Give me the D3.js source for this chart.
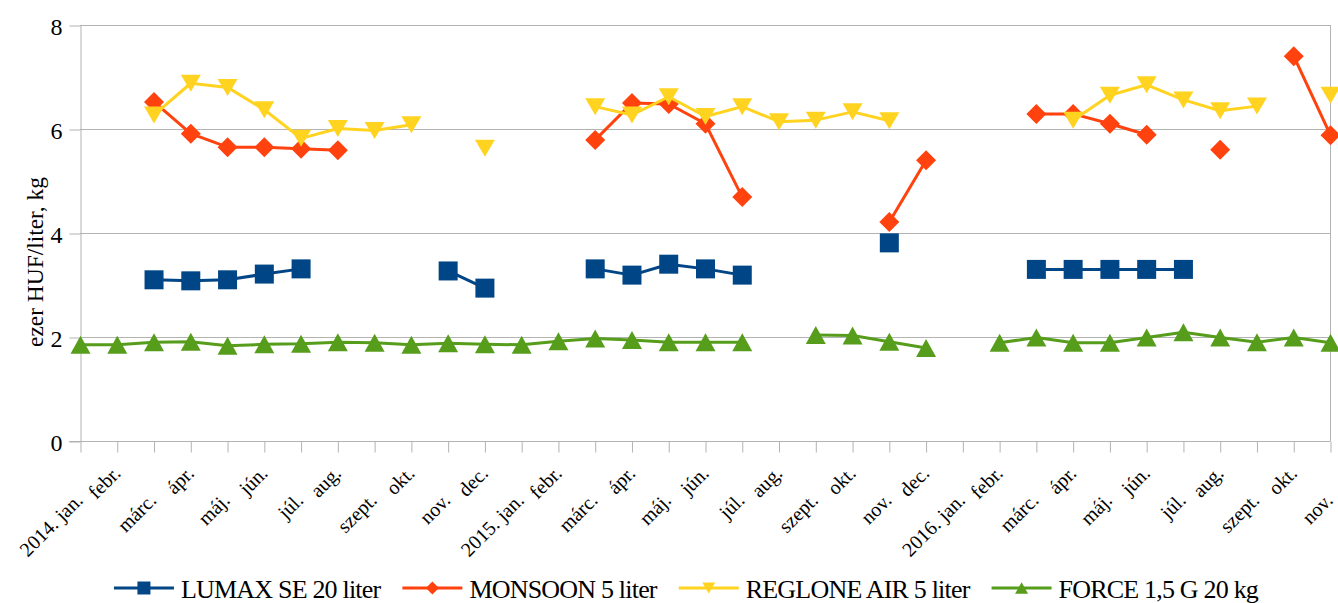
<!DOCTYPE html>
<html>
<head>
<meta charset="utf-8">
<script src="https://cdn.jsdelivr.net/npm/d3@7"></script>
<style>
    body { margin: 0; background: #fff; }
    svg { display: block; }
    svg text { font-family: "Liberation Serif", Tinos, "Times New Roman", Times, "DejaVu Serif", serif; }
    .axis path, .axis line { stroke: #b3b3b3; }
    .grid line { stroke: #b3b3b3; stroke-width: 1; }
</style>
</head>
<body>
<svg width="1338" height="603"></svg>
<script>
// months, 2014 jan .. 2016 nov
var months = [
    '2014. jan.', 'febr.', 'márc.', 'ápr.', 'máj.', 'jún.', 'júl.', 'aug.', 'szept.', 'okt.', 'nov.', 'dec.',
    '2015. jan.', 'febr.', 'márc.', 'ápr.', 'máj.', 'jún.', 'júl.', 'aug.', 'szept.', 'okt.', 'nov.', 'dec.',
    '2016. jan.', 'febr.', 'márc.', 'ápr.', 'máj.', 'jún.', 'júl.', 'aug.', 'szept.', 'okt.', 'nov.'
];

var yTicks = [0, 2, 4, 6, 8];

var seriesNames = ['LUMAX SE 20 liter', 'MONSOON 5 liter', 'REGLONE AIR 5 liter', 'FORCE 1,5 G 20 kg'];

var lumax = [null, null, 3.10, 3.08, 3.10, 3.21, 3.31, null, null, null, 3.27, 2.94,
    null, null, 3.31, 3.19, 3.40, 3.31, 3.19, null, null, null, 3.81, null,
    null, null, 3.30, 3.30, 3.30, 3.30, 3.30, null, null, null, null];

var monsoon = [null, null, 6.52, 5.91, 5.65, 5.65, 5.62, 5.59, null, null, null, null,
    null, null, 5.79, 6.50, 6.48, 6.10, 4.69, null, null, null, 4.21, 5.40,
    null, null, 6.29, 6.29, 6.10, 5.89, null, 5.60, null, 7.40, 5.88];

var reglone = [null, null, 6.27, 6.88, 6.80, 6.37, 5.82, 6.01, 5.97, 6.08, null, 5.63,
    null, null, 6.43, 6.27, 6.62, 6.24, 6.43, 6.14, 6.17, 6.33, 6.16, null,
    null, null, null, 6.17, 6.65, 6.85, 6.56, 6.35, 6.44, null, 6.65];

var force = [1.85, 1.85, 1.90, 1.91, 1.83, 1.86, 1.87, 1.90, 1.89, 1.85, 1.88, 1.86,
    1.85, 1.92, 1.97, 1.94, 1.90, 1.90, 1.90, null, 2.04, 2.03, 1.91, 1.79,
    null, 1.89, 1.99, 1.89, 1.89, 1.99, 2.09, 1.99, 1.90, 1.99, 1.89];

var colors = ['#004586', '#ff420e', '#ffd320', '#579d1c'];
var shapes = ['square', 'diamond', 'down', 'up'];

var dom = {};
var series = [lumax, monsoon, reglone, force].map(function(vals, k) {
    return { name: seriesNames[k], values: vals, color: colors[k], shape: shapes[k] };
});

var x = d3.scalePoint().domain(d3.range(months.length)).range([80.5, 1330.5]);
var y = d3.scaleLinear().domain([0, 8]).range([441, 25]);

// marker path, r = half size
function marker(shape, r) {
    if (shape === 'square') return 'M' + (-r) + ',' + (-r) + 'H' + r + 'V' + r + 'H' + (-r) + 'Z';
    if (shape === 'diamond') return 'M0,' + (-r) + 'L' + r + ',0L0,' + r + 'L' + (-r) + ',0Z';
    if (shape === 'down') return 'M' + (-r) + ',' + (-r * 0.85) + 'H' + r + 'L0,' + (r * 0.85) + 'Z';
    return 'M' + (-r) + ',' + (r * 0.9) + 'H' + r + 'L0,' + (-r * 0.9) + 'Z';
}

function drawGrid() {
    dom.svg.append('g').classed('grid', true).selectAll('line')
            .data(yTicks.filter(function(d) { return d > 0; }))
        .enter().append('line')
            .attr('x1', 80).attr('x2', 1330.5)
            .attr('y1', function(d) { return Math.round(y(d)) + 0.5; })
            .attr('y2', function(d) { return Math.round(y(d)) + 0.5; });

    // right border of the plot area
    dom.svg.append('line')
        .attr('x1', 1330.5).attr('x2', 1330.5).attr('y1', 25).attr('y2', 441)
        .attr('stroke', '#b3b3b3');
}

function drawAxes() {
    var yAxis = d3.axisLeft(y).tickValues(yTicks).tickSize(11).tickSizeOuter(0);
    var gy = dom.svg.append('g').classed('axis', true)
        .attr('transform', 'translate(80.5,0.5)')
        .call(yAxis);
    gy.attr('font-family', null);
    gy.selectAll('text')
        .attr('x', -18).attr('dy', '0.36em')
        .style('font-size', '24px')
        .attr('fill', '#000');

    var xAxis = d3.axisBottom(x).tickSize(11).tickSizeOuter(0)
        .tickFormat(function(i) { return months[i]; });
    var gx = dom.svg.append('g').classed('axis', true)
        .attr('transform', 'translate(0,441.5)')
        .call(xAxis);
    gx.attr('font-family', null);
    gx.select('.domain').attr('d', 'M69,0H1330.5');
    gx.selectAll('text')
        .attr('x', 0).attr('y', 0).attr('dy', 0)
        .attr('text-anchor', 'end')
        .attr('transform', function(d) {
            return d % 2 === 0 ? 'translate(3,60) rotate(-45)' : 'translate(4,33) rotate(-45)';
        })
        .style('font-size', '20px')
        .attr('fill', '#000');

    // axis title, sized to the reference length
    var title = dom.svg.append('text')
        .attr('transform', 'translate(43,262) rotate(-90)')
        .attr('text-anchor', 'middle')
        .style('font-size', '23px')
        .text('ezer HUF/liter, kg');
    var len = title.node().getComputedTextLength();
    title.style('font-size', (23 * 170 / len) + 'px');
}

function drawSeries() {
    var line = d3.line()
        .defined(function(d) { return d !== null; })
        .x(function(d, i) { return x(i); })
        .y(function(d) { return y(d); });

    var groups = dom.svg.append('g').selectAll('.series')
            .data(series)
        .enter().append('g')
            .classed('series', true);

    groups.append('path')
        .attr('d', function(s) { return line(s.values); })
        .attr('fill', 'none')
        .attr('stroke', function(s) { return s.color; })
        .attr('stroke-width', 3)
        .attr('stroke-linejoin', 'round');

    groups.selectAll('.pt')
            .data(function(s) {
                return s.values.map(function(v, i) { return { v: v, i: i, s: s }; })
                    .filter(function(d) { return d.v !== null; });
            })
        .enter().append('path')
            .classed('pt', true)
            .attr('transform', function(d) { return 'translate(' + x(d.i) + ',' + y(d.v) + ')'; })
            .attr('d', function(d) { return marker(d.s.shape, d.s.shape === 'square' ? 9.5 : 10); })
            .attr('fill', function(d) { return d.s.color; });
}

function drawLegend() {
    var g = dom.svg.append('g');
    var items = g.selectAll('.item')
            .data(series)
        .enter().append('g')
            .classed('item', true);

    items.append('line')
        .attr('x1', 0).attr('x2', 60).attr('y1', 0).attr('y2', 0)
        .attr('stroke', function(s) { return s.color; })
        .attr('stroke-width', 3);
    items.append('path')
        .attr('transform', 'translate(30,0)')
        .attr('d', function(s) { return marker(s.shape, 6.5); })
        .attr('fill', function(s) { return s.color; });
    items.append('text')
        .attr('x', 67).attr('y', 10)
        .style('font-size', '26px')
        .style('letter-spacing', '-0.8px')
        .text(function(s) { return s.name; });

    var widths = [];
    items.each(function() { widths.push(67 + d3.select(this).select('text').node().getComputedTextLength()); });
    var gap = 22, total = d3.sum(widths) + gap * (widths.length - 1);
    var pos = 686 - total / 2;
    items.attr('transform', function(d, i) {
        var t = 'translate(' + pos + ',588)';
        pos += widths[i] + gap;
        return t;
    });
}

function initialize() {
    dom.svg = d3.select('svg');
    drawGrid();
    drawAxes();
    drawSeries();
    drawLegend();
}

initialize();
</script>
</body>
</html>
